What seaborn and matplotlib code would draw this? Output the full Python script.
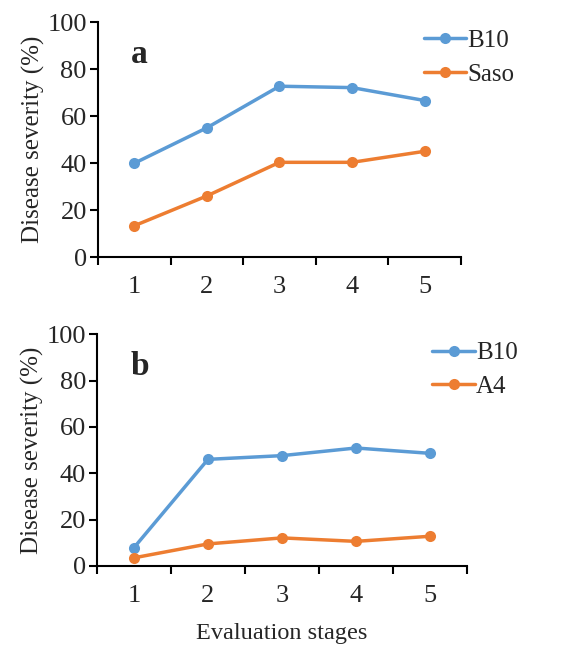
import matplotlib
matplotlib.use("Agg")
import matplotlib.pyplot as plt
import seaborn as sns
import pandas as pd
import numpy as np

stages = ["1", "2", "3", "4", "5"]
a_b10 = [39.9, 55.0, 72.7, 72.1, 66.6]
a_saso = [13.3, 26.0, 40.3, 40.3, 45.0]
b_b10 = [7.9, 46.0, 47.6, 50.9, 48.6]
b_a4 = [3.5, 9.5, 12.1, 10.6, 12.8]
yticks = [0, 20, 40, 60, 80, 100]

sns.set_theme(style="white")
plt.rcParams['font.family'] = ['Liberation Serif', 'DejaVu Serif']

blue = "#5B9BD5"
orange = "#ED7D31"

fig = plt.figure(figsize=(5.69, 6.49), dpi=100)
ax1 = fig.add_axes([0.1722, 0.604, 0.638, 0.362])
ax2 = fig.add_axes([0.1705, 0.128, 0.650, 0.357])

def panel(ax, s1, s2, n1, n2, letter, legx):
    df = pd.DataFrame({
        "stage": list(range(len(stages))) * 2,
        "value": s1 + s2,
        "series": [n1] * len(stages) + [n2] * len(stages),
    })
    sns.lineplot(data=df, x="stage", y="value", hue="series",
                 palette=[blue, orange], marker="o", markersize=8,
                 markeredgewidth=0, linewidth=2.5, ax=ax)
    ax.set_xlim(-0.5, len(stages) - 0.5)
    ax.set_ylim(0, 100)
    ax.set_yticks(yticks)
    ax.set_yticklabels([str(t) for t in yticks], fontsize=19)
    ax.set_xticks(np.arange(-0.5, len(stages), 1.0))
    ax.set_xticklabels([])
    ax.set_xticks(range(len(stages)), minor=True)
    ax.set_xticklabels(stages, minor=True, fontsize=19)
    ax.tick_params(axis="x", which="major", direction="out", length=6, width=1.5,
                   color="black", bottom=True)
    ax.tick_params(axis="x", which="minor", length=0, pad=14)
    ax.tick_params(axis="y", direction="out", length=6, width=1.5, color="black",
                   left=True, pad=2)
    for side in ["top", "right"]:
        ax.spines[side].set_visible(False)
    for side in ["left", "bottom"]:
        ax.spines[side].set_color("black")
        ax.spines[side].set_linewidth(1.5)
    ax.set_xlabel("")
    ax.set_ylabel("Disease severity (%)", fontsize=18, labelpad=2)
    ax.text(0.09, 0.86, letter, transform=ax.transAxes, fontsize=24,
            fontweight="bold", ha="left", va="center")
    ax.legend(loc="upper left", bbox_to_anchor=(legx, 1.01), frameon=False,
              fontsize=18, handlelength=1.7, handletextpad=0.05,
              labelspacing=0.45, borderaxespad=0)
    ax.set_facecolor("white")

panel(ax1, a_b10, a_saso, "B10", "Saso", "a", 0.87)
panel(ax2, b_b10, b_a4, "B10", "A4", "b", 0.88)
ax2.set_xlabel("Evaluation stages", fontsize=17.5, labelpad=11)

fig.savefig("out.png", dpi=100, facecolor="white")
